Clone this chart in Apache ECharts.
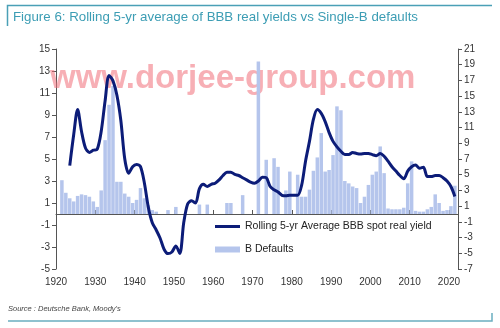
<!DOCTYPE html>
<html><head><meta charset="utf-8">
<script src="https://cdn.jsdelivr.net/npm/echarts@6/dist/echarts.min.js"></script>
<style>html,body{margin:0;padding:0;background:#fff}#c{width:500px;height:328px}</style>
</head><body><div id="c"></div>
<script>
const titleText = 'Figure 6: Rolling 5-yr average of BBB real yields vs Single-B defaults';
const sourceText = "Source : Deutsche Bank, Moody's";
const watermarkText = 'www.dorjee-group.com';
const lineName = 'Rolling 5-yr Average BBB spot real yield';
const barName = 'B Defaults';

const xTickValues = [1920, 1930, 1940, 1950, 1960, 1970, 1980, 1990, 2000, 2010, 2020];
const leftTicks = [-5, -3, -1, 1, 3, 5, 7, 9, 11, 13, 15];
const rightTicks = [-7, -5, -3, -1, 1, 3, 5, 7, 9, 11, 13, 15, 17, 19, 21];

const lineYears = [1923,1924,1925,1926,1927,1928,1929,1930,1931,1932,1933,1934,1935,1936,1937,1938,1939,1940,
  1941,1942,1943,1944,1945,1946,1947,1948,1949,1950,1951,1952,1953,1954,1955,1956,1957,1958,1959,1960,
  1961,1962,1963,1964,1965,1966,1967,1968,1969,1970,1971,1972,1973,1974,1975,1976,1977,1978,1979,1980,
  1981,1982,1983,1984,1985,1986,1987,1988,1989,1990,1991,1992,1993,1994,1995,1996,1997,1998,1999,2000,
  2001,2002,2003,2004,2005,2006,2007,2008,2009,2010,2011,2012,2013,2014,2015,2016,2017,2018,2019,2020,2021];
const yieldValues = [4.4,7.2,9.5,7.5,6.0,5.6,5.8,5.9,7.5,10.3,12.6,12.1,10.8,8.5,5.0,3.7,4.3,4.5,
  4.3,2.8,0.6,-0.8,-1.45,-2.2,-3.2,-3.6,-3.45,-2.9,-3.6,-0.8,0.9,1.2,1.0,2.3,2.7,2.5,2.7,2.8,
  3.1,3.5,3.8,3.8,3.6,3.5,3.3,3.1,2.9,2.8,3.0,3.35,3.3,2.5,2.2,2.0,1.7,1.65,1.7,1.7,
  1.7,2.6,4.8,6.6,8.6,9.5,9.15,8.4,7.4,6.6,6.1,5.7,5.4,5.4,5.6,5.5,5.45,5.5,5.5,5.4,
  5.3,5.5,5.25,4.8,4.3,3.9,3.5,3.2,3.9,4.3,4.45,4.15,4.25,3.4,3.4,3.5,3.5,3.3,3.0,2.5,1.6];

const barYears = [1921,1922,1923,1924,1925,1926,1927,1928,1929,1930,1931,1932,1933,1934,1935,1936,1937,1938,1939,1940,
  1941,1942,1943,1944,1945,1946,1947,1948,1949,1950,1951,1952,1953,1954,1955,1956,1957,1958,1959,1960,
  1961,1962,1963,1964,1965,1966,1967,1968,1969,1970,1971,1972,1973,1974,1975,1976,1977,1978,1979,1980,
  1981,1982,1983,1984,1985,1986,1987,1988,1989,1990,1991,1992,1993,1994,1995,1996,1997,1998,1999,2000,
  2001,2002,2003,2004,2005,2006,2007,2008,2009,2010,2011,2012,2013,2014,2015,2016,2017,2018,2019,2020,2021];
const defaultValues = [4.3,2.7,2.0,1.6,2.3,2.5,2.4,2.2,1.6,0.9,3.0,9.4,13.9,16.3,4.1,4.1,2.6,2.2,1.4,1.8,
  3.3,2.0,1.1,0.5,0.3,0,0,0.5,0,0.9,0,0,0,0,0,1.2,0,1.2,0,0,
  0,0,1.4,1.4,0,0,2.4,0,0,0,19.4,0,6.9,0,7.1,6.0,0,3.0,5.4,0,
  5.0,2.2,2.2,3.1,5.5,7.2,10.3,5.4,5.6,7.5,13.7,13.2,4.2,3.9,3.5,3.3,1.4,2.2,3.7,5.0,
  5.4,8.6,5.2,0.7,0.6,0.6,0.6,0.8,3.9,6.7,0.4,0.3,0.3,0.6,0.9,2.5,1.4,0.4,0.5,1.0,3.6];

const FONT = 'Liberation Sans';
const chart = echarts.init(document.getElementById('c'), null, {renderer: 'canvas'});
const mid = 0.5;
chart.setOption({
  animation: false,
  backgroundColor: '#fff',
  textStyle: {fontFamily: FONT},
  grid: {left: 56, right: 42, top: 49, bottom: 59, containLabel: false},
  legend: [
    {data: [{name: lineName, icon: 'rect'}], left: 215, top: 221, padding: 0, itemWidth: 25, itemHeight: 3, itemGap: 4,
     textStyle: {fontSize: 10.5, color: '#222', fontFamily: FONT}, selectedMode: false},
    {data: [{name: barName, icon: 'rect'}], left: 215, top: 244, padding: 0, itemWidth: 25, itemHeight: 6,
     textStyle: {fontSize: 10.5, color: '#222', fontFamily: FONT}, selectedMode: false}
  ],
  xAxis: [
    {type: 'value', min: xTickValues[0], max: 2022.3, interval: 10, position: 'bottom',
     axisLine: {show: false, onZero: false}, axisTick: {show: false}, splitLine: {show: false},
     axisLabel: {customValues: xTickValues, fontSize: 10, color: '#333', margin: 8, fontFamily: FONT, formatter: v => String(v)}},
    {type: 'value', min: xTickValues[0], max: 2022.3, interval: 10, position: 'top',
     axisLine: {show: true, onZero: true, onZeroAxisIndex: 0, lineStyle: {color: '#555', width: 1}},
     axisTick: {show: true, inside: false, length: 4, customValues: xTickValues, lineStyle: {color: '#555'}},
     axisLabel: {show: false}, splitLine: {show: false}}
  ],
  yAxis: [
    {type: 'value', min: leftTicks[0], max: leftTicks[leftTicks.length-1], interval: leftTicks[1]-leftTicks[0], position: 'left',
     axisLine: {show: true, onZero: false, lineStyle: {color: '#555', width: 1}},
     axisTick: {show: true, length: 4, lineStyle: {color: '#555'}},
     axisLabel: {fontSize: 10, color: '#333', margin: 6, fontFamily: FONT},
     splitLine: {show: false}},
    {type: 'value', min: rightTicks[0], max: rightTicks[rightTicks.length-1], interval: rightTicks[1]-rightTicks[0], position: 'right',
     axisLine: {show: true, onZero: false, lineStyle: {color: '#555', width: 1}},
     axisTick: {show: true, length: 4, lineStyle: {color: '#555'}},
     axisLabel: {fontSize: 10, color: '#333', margin: 6, fontFamily: FONT},
     splitLine: {show: false}}
  ],
  series: [
    {name: barName, type: 'bar', xAxisIndex: 0, yAxisIndex: 1, barWidth: 3.5,
     itemStyle: {color: '#b5c5ec'},
     data: barYears.map((y, i) => [y + mid, defaultValues[i]]), z: 2},
    {name: lineName, type: 'line', xAxisIndex: 0, yAxisIndex: 0, symbol: 'none', smooth: 0.3,
     lineStyle: {color: '#0c1c78', width: 3}, itemStyle: {color: '#0c1c78'},
     data: lineYears.map((y, i) => [y + mid, yieldValues[i]]), z: 4}
  ],
  graphic: [
    {type: 'text', left: 50, top: 62, z: 1, style: {text: watermarkText, font: 'bold 33px "' + FONT + '"', fill: 'rgba(240,110,120,0.55)'}},
    {type: 'polyline', shape: {points: [[7.5, 26], [7.5, 5.5], [492, 5.5]]}, style: {stroke: '#4aa0b6', lineWidth: 1.5, fill: null}},
    {type: 'polyline', shape: {points: [[8, 321], [492, 321], [492, 313]]}, style: {stroke: '#6aaec0', lineWidth: 1.5, fill: null}},
    {type: 'text', left: 13, top: 11, style: {text: titleText, font: '13.3px "' + FONT + '"', fill: '#3c9db4'}},
    {type: 'text', left: 8, top: 305, style: {text: sourceText, font: 'italic 7.5px "' + FONT + '"', fill: '#444'}}
  ]
});
</script></body></html>
